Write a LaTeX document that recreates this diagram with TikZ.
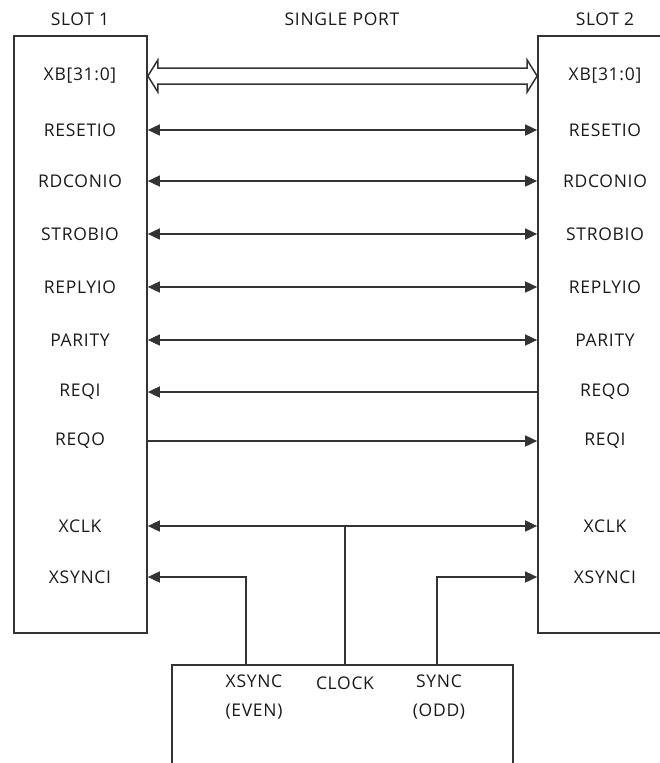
\documentclass[tikz,border=0pt]{standalone}
\usepackage{fontspec}
\setmainfont{Open Sans}[LetterSpace=4]
\usetikzlibrary{arrows.meta,positioning,calc}

\begin{document}
\begin{tikzpicture}[
    x=1pt, y=-1pt,
    >={Triangle[length=12pt,width=11pt]},
    font=\fontsize{17.5}{29}\selectfont,
    every node/.style={text=black!90},
    slotbox/.style={draw=black!80, line width=1.7pt, minimum width=133pt, minimum height=597pt, inner sep=0pt},
    sig/.style={draw=black!80, line width=1.7pt},
    bus/.style={draw=black!80, line width=1.5pt, fill=white, line join=miter}
]
\useasboundingbox (0,0) rectangle (660,763);
\clip (0,0) rectangle (660,763);

% Headings.
\node (h-slot1) at (80,19) {SLOT 1};
\node (h-port) at (342,19) {SINGLE PORT};
\node (h-slot2) at (605,19) {SLOT 2};

% The two slots and the clock source.
\node[slotbox] (slot1) at (80.5,334.5) {};
\node[slotbox, minimum width=140pt] (slot2) at (608,334.5) {};
\node[slotbox, minimum width=341pt, minimum height=135pt] (osc) at (342.5,732.5) {};

% Slot 1 pins.
\node (l-xb) at (80,76) {XB[31:0]};
\node (l-reset) at (80,130) {RESETIO};
\node (l-rdcon) at (80,181) {RDCONIO};
\node (l-strob) at (80,234) {STROBIO};
\node (l-reply) at (80,287) {REPLYIO};
\node (l-parity) at (80,340) {PARITY};
\node (l-reqi) at (80,392) {REQI};
\node (l-reqo) at (80,441) {REQO};
\node (l-xclk) at (80,526) {XCLK};
\node (l-xsync) at (80,577) {XSYNCI};

% Slot 2 pins.
\node (r-xb) at (605,76) {XB[31:0]};
\node (r-reset) at (605,130) {RESETIO};
\node (r-rdcon) at (605,181) {RDCONIO};
\node (r-strob) at (605,234) {STROBIO};
\node (r-reply) at (605,287) {REPLYIO};
\node (r-parity) at (605,340) {PARITY};
\node (r-reqo) at (605,392) {REQO};
\node (r-reqi) at (605,441) {REQI};
\node (r-xclk) at (605,526) {XCLK};
\node (r-xsync) at (605,577) {XSYNCI};

% Clock source outputs.
\node[align=center] (even) at (254,697) {XSYNC\\(EVEN)};
\node (clock) at (345,683) {CLOCK};
\node[align=center] (odd) at (439,697) {SYNC\\(ODD)};
\coordinate (even-out) at ($(osc.north west)+(75,0)$);
\coordinate (clock-out) at ($(osc.north west)+(174,0)$);
\coordinate (odd-out) at ($(osc.north west)+(266,0)$);

% Data bus drawn as a hollow double arrow.
\coordinate (bus-l) at (slot1.east |- l-xb);
\coordinate (bus-r) at (slot2.west |- r-xb);
\draw[bus] (bus-l) -- ++(10,-16) -- ++(0,8) -- ($(bus-r)+(-10,-8)$) -- ++(0,-8)
    -- (bus-r) -- ++(-10,16) -- ++(0,-8) -- ($(bus-l)+(10,8)$) -- ++(0,8) -- cycle;

% Control lines.
\draw[sig,<->] (slot1.east |- l-reset) -- (slot2.west |- r-reset);
\draw[sig,<->] (slot1.east |- l-rdcon) -- (slot2.west |- r-rdcon);
\draw[sig,<->] (slot1.east |- l-strob) -- (slot2.west |- r-strob);
\draw[sig,<->] (slot1.east |- l-reply) -- (slot2.west |- r-reply);
\draw[sig,<->] (slot1.east |- l-parity) -- (slot2.west |- r-parity);
\draw[sig,->] (slot2.west |- r-reqo) -- (slot1.east |- l-reqi);
\draw[sig,->] (slot1.east |- l-reqo) -- (slot2.west |- r-reqi);

% Clock and sync distribution.
\draw[sig,<->] (slot1.east |- l-xclk) -- (slot2.west |- r-xclk);
\draw[sig] (clock-out) -- (clock-out |- l-xclk);
\draw[sig,->] (even-out) |- (slot1.east |- l-xsync);
\draw[sig,->] (odd-out) |- (slot2.west |- r-xsync);

\end{tikzpicture}
\end{document}
